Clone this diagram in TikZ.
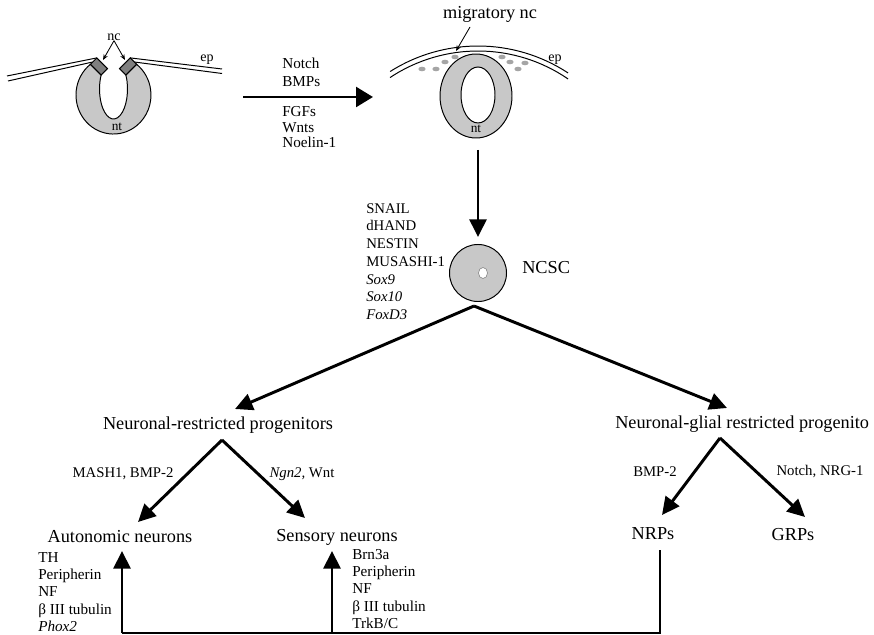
\documentclass[tikz,border=0pt]{standalone}
\usepackage{fontspec}
\setmainfont{Liberation Serif}
\usetikzlibrary{arrows.meta}
\definecolor{tubefill}{RGB}{200,200,200}
\definecolor{crestfill}{RGB}{128,128,128}
\definecolor{cellfill}{RGB}{165,165,165}
\begin{document}
\begin{tikzpicture}[x=0.025cm, y=0.025cm,
  bigtext/.style={font=\fontsize{13}{15}\selectfont, inner sep=0pt},
  factortext/.style={font=\fontsize{10.5}{12.6}\selectfont, inner sep=0pt},
  markerlist/.style={font=\fontsize{10.8}{12.4}\selectfont, inner sep=0pt, align=left, anchor=west},
  tissuetag/.style={font=\fontsize{10}{12}\selectfont, inner sep=0pt},
  tubetag/.style={font=\fontsize{9.5}{11}\selectfont, inner sep=0pt},
  flow/.style={line width=2.1pt, -{Triangle[length=12.5pt,width=12pt]}},
  trunk/.style={line width=2.1pt, line join=miter},
  pointer/.style={line width=0.6pt, -{Stealth[length=4pt,width=3.2pt]}},
  tissue/.style={draw=black, line width=0.7pt, fill=tubefill},
  crest/.style={draw=black, line width=0.7pt, fill=crestfill},
  epi/.style={line width=0.7pt},
]
\path[use as bounding box] (0,0) rectangle (874,-635);
\clip (0,0) rectangle (874,-635);
\fill[white] (0,0) rectangle (874,-635);

% ---------- closing neural tube with premigratory crest ----------
\draw[epi] (7,-76) -- (96.8,-57.9);
\draw[epi] (8,-81) -- (92.7,-62);
\draw[epi] (130.2,-57.9) -- (222,-69);
\draw[epi] (134.3,-62) -- (222,-73.5);
\path[tissue] (90.4,-64.3) arc[start angle=128, end angle=412, x radius=37.5, y radius=39]
  -- (125.9,-75) arc[start angle=27.8, end angle=-207.8, x radius=14, y radius=30] -- cycle;
\path[crest] (90.4,-64.3) -- (96.8,-57.9) -- (107.5,-68.6) -- (101.1,-75) -- cycle;
\path[crest] (136.6,-64.3) -- (130.2,-57.9) -- (119.5,-68.6) -- (125.9,-75) -- cycle;
\node[tissuetag] (nclab) at (114,-37) {nc};
\node[tubetag] (ntleft) at (117,-127) {nt};
\node[tissuetag] (epleft) at (207,-60) {ep};
\coordinate (nctipL) at (103,-60);
\coordinate (nctipR) at (125,-60);
\draw[pointer] (nclab.south) -- (nctipL);
\draw[pointer] (nclab.south) -- (nctipR);

% ---------- signals driving delamination ----------
\coordinate (stimstart) at (243,-97);
\coordinate (stimend) at (373,-97);
\draw[line width=2.1pt, -{Triangle[length=12pt,width=14pt]}] (stimstart) -- (stimend);
\node[factortext, align=left, anchor=west, font=\fontsize{10.8}{12.8}\selectfont] (upperfactors) at (282,-72) {Notch\\BMPs};
\node[factortext, align=left, anchor=west, font=\fontsize{10.8}{11}\selectfont] (lowerfactors) at (282,-127.5) {FGFs\\Wnts\\Noelin-1};

% ---------- closed tube with migrating crest cells ----------
\draw[epi] (478,-210) ++(122.4:164) arc[start angle=122.4, end angle=56.7, radius=164];
\draw[epi] (478,-210) ++(123.6:159) arc[start angle=123.6, end angle=55.5, radius=159];
\foreach \cx/\cy in {422/69, 436/69, 445/62, 455/57, 502/57, 510/62, 518/69, 525/63}
  \fill[cellfill] (\cx,-\cy) ellipse[x radius=3.6, y radius=2.3];
\path[tissue, even odd rule] (476,-96) ellipse[x radius=36, y radius=42]
  (478,-95) ellipse[x radius=17, y radius=28];
\node[tubetag] (ntright) at (476,-129) {nt};
\node[tissuetag] (epright) at (555,-60) {ep};
\node[bigtext] (miglab) at (490,-14) {migratory nc};
\coordinate (migtail) at (470,-27);
\coordinate (migtip) at (456,-51);
\draw[pointer] (migtail) -- (migtip);

% ---------- neural crest stem cell ----------
\node[circle, draw, line width=0.7pt, fill=tubefill, minimum size=1.425cm, inner sep=0pt] (ncsc) at (478,-273) {};
\filldraw[fill=white, draw=gray, line width=0.4pt] (483,-273) ellipse[x radius=4.5, y radius=5.5];
\coordinate (tubebase) at (478,-150);
\draw[flow, shorten >=5pt] (tubebase) -- (ncsc.north);
\node[bigtext, anchor=west] (ncsclab) at (522,-268) {NCSC};
\node[markerlist, font=\fontsize{10.5}{12.6}\selectfont] (ncscmarkers) at (366,-261.5)
  {SNAIL\\dHAND\\NESTIN\\MUSASHI-1\\\textit{Sox9}\\\textit{Sox10}\\\textit{FoxD3}};

% ---------- restricted progenitors ----------
\coordinate (split) at (474,-306);
\coordinate (nrptip) at (235,-409);
\coordinate (ngptip) at (727,-408);
\draw[flow] (split) -- (nrptip);
\draw[flow] (split) -- (ngptip);
\node[bigtext] (nrp) at (218,-425) {Neuronal-restricted progenitors};
\node[bigtext, anchor=west] (ngp) at (615,-424) {Neuronal-glial restricted progenito};

\coordinate (nrpsplit) at (222,-440);
\coordinate (autotip) at (138,-522);
\coordinate (senstip) at (305,-518);
\draw[flow] (nrpsplit) -- (autotip);
\draw[flow] (nrpsplit) -- (senstip);
\node[factortext] (autosignal) at (123,-474) {MASH1, BMP-2};
\node[factortext] (senssignal) at (302,-474) {\textit{Ngn2,} Wnt};

\coordinate (ngpsplit) at (720,-438);
\coordinate (nrpstip) at (662,-515);
\coordinate (grpstip) at (805,-517);
\draw[flow] (ngpsplit) -- (nrpstip);
\draw[flow] (ngpsplit) -- (grpstip);
\node[factortext] (nrpssignal) at (655,-472) {BMP-2};
\node[factortext] (grpssignal) at (820,-472) {Notch, NRG-1};

% ---------- differentiated fates ----------
\node[bigtext] (auto) at (120,-537) {Autonomic neurons};
\node[bigtext] (sens) at (337,-537) {Sensory neurons};
\node[bigtext] (nrps) at (653,-534) {NRPs};
\node[bigtext] (grps) at (793,-535) {GRPs};

\node[markerlist] (autolist) at (38,-592) {TH\\Peripherin\\NF\\β III tubulin\\\textit{Phox2}};
\node[markerlist] (senslist) at (352,-589) {Brn3a\\Peripherin\\NF\\β III tubulin\\TrkB/C};

% ---------- NRPs feed back into both neuron classes ----------
\coordinate (nrpsfoot) at (660,-550);
\coordinate (autobase) at (122,-633);
\coordinate (sensbase) at (332,-633);
\coordinate (autoup) at (122,-551);
\coordinate (sensup) at (332,-551);
\draw[trunk] (nrpsfoot) |- (autobase);
\draw[flow] (autobase) -- (autoup);
\draw[flow] (sensbase) -- (sensup);
\end{tikzpicture}
\end{document}
